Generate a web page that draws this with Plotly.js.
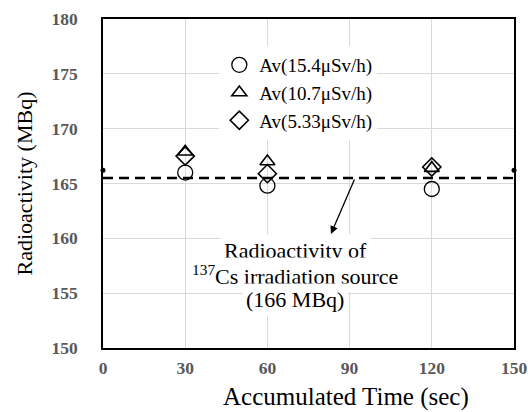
<!DOCTYPE html>
<html>
<head>
<meta charset="utf-8">
<script src="https://cdn.plot.ly/plotly-3.0.1.min.js"></script>
<style>html,body{margin:0;padding:0;background:#fff}#chart{width:528px;height:412px}</style>
</head>
<body>
<div id="chart"></div>
<script>
const times = [30, 60, 120];
const av154 = [166.0, 164.8, 164.5];
const av107 = [167.9, 167.0, 166.4];
const av533 = [167.5, 165.9, 166.5];
const refX = [0, 150];
const refLine = [165.5, 165.5];
const refPts = [166.2, 166.2];
const xTicks = [0, 30, 60, 90, 120, 150];
const yTicks = [150, 155, 160, 165, 170, 175, 180];
const noteLines = ['Radioactivity of', '<sup>137</sup>Cs irradiation source', '(166 MBq)'];

const serif = '"Liberation Serif", "Times New Roman", serif';

const traces = [
  {x: refX, y: refLine, mode: 'lines', line: {color: 'black', width: 2.3, dash: '10px,6px'}, showlegend: false, hoverinfo: 'skip', cliponaxis: false},
  {x: refX, y: refPts, mode: 'markers', marker: {color: 'black', size: 5}, showlegend: false, cliponaxis: false},
  {x: times, y: av154, mode: 'markers', name: 'Av(15.4μSv/h)', legendgroup: 'a', marker: {symbol: 'circle-open', size: 15, color: 'black', line: {width: 1.3, color: 'black'}}},
  {x: times, y: av107, mode: 'markers', name: 'Av(10.7μSv/h)', legendgroup: 'b', marker: {symbol: 'triangle-up-open', size: 13, color: 'black', line: {width: 1.6, color: 'black'}}},
  {x: times, y: av533, mode: 'markers', name: 'Av(5.33μSv/h)', legendgroup: 'c', marker: {symbol: 'diamond-open', size: 14, color: 'black', line: {width: 1.6, color: 'black'}}}
];

const L = 103, R = 14, T = 19, B = 64, W = 528, H = 412;
const plotW = W - L - R, plotH = H - T - B;
const px2x = p => (p - L) / plotW;          // pixel -> paper x
const px2y = p => (H - B - p) / plotH;      // pixel -> paper y

const annotations = [
  {x: 83.2, y: 160.4, ax: 92.0, ay: 165.5, axref: 'x', ayref: 'y', xref: 'x', yref: 'y',
   text: '', showarrow: true, arrowhead: 2, arrowsize: 1.2, arrowwidth: 1.3, arrowcolor: 'black'},
  {x: px2x(346), y: px2y(397), xref: 'paper', yref: 'paper', showarrow: false, yanchor: 'middle',
   text: 'Accumulated Time (sec)', font: {family: serif, size: 25, color: 'black'}}
];
const lineY = [250, 275, 299];
noteLines.forEach((t, i) => {
  annotations.push({x: px2x(295), y: px2y(lineY[i]), xref: 'paper', yref: 'paper', showarrow: false,
    yanchor: 'middle', text: t, font: {family: serif, size: 22, color: 'black'}, bgcolor: 'white', borderpad: 3});
});

const layout = {
  width: W, height: H,
  margin: {l: L, r: R, t: T, b: B},
  paper_bgcolor: 'white', plot_bgcolor: 'white',
  font: {family: serif, color: 'black'},
  showlegend: true,
  legend: {x: 0.283, y: 0.918, xanchor: 'left', yanchor: 'top', bgcolor: 'white', borderwidth: 0,
           tracegroupgap: 0,
           font: {family: serif, size: 19, color: 'black'}, itemwidth: 30},
  xaxis: {
    range: [0, 150], tickvals: xTicks, ticktext: xTicks.map(String),
    showgrid: true, gridcolor: '#d9d9d9', gridwidth: 1,
    showline: true, linecolor: 'black', linewidth: 1.8, mirror: true,
    zeroline: false, ticks: '', ticklabelstandoff: 3,
    tickfont: {family: serif, size: 17.5, color: '#595959', weight: 'bold'}
  },
  yaxis: {
    range: [150, 180], tickvals: yTicks, ticktext: yTicks.map(String),
    showgrid: true, gridcolor: '#d9d9d9', gridwidth: 1,
    showline: true, linecolor: 'black', linewidth: 1.8, mirror: true,
    zeroline: false, ticks: '', ticklabelstandoff: 20,
    tickfont: {family: serif, size: 17.5, color: '#595959', weight: 'bold'},
    title: {text: 'Radioactivity (MBq)', font: {family: serif, size: 22, color: 'black'}, standoff: 13}
  },
  annotations: annotations
};

Plotly.newPlot('chart', traces, layout, {displayModeBar: false, staticPlot: true});
</script>
</body>
</html>
